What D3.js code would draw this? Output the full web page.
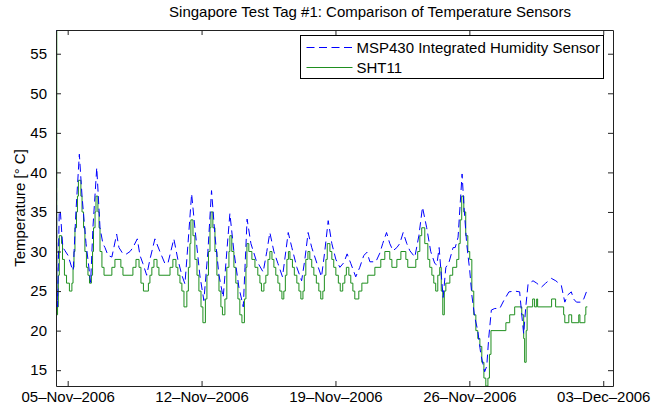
<!DOCTYPE html>
<html><head><meta charset="utf-8">
<script src="https://cdn.jsdelivr.net/npm/d3@7"></script>
<style>
html,body{margin:0;padding:0;background:#fff;}
svg{display:block;}
text{font-family:"Liberation Sans",Arial,Helvetica,sans-serif;fill:#000;}
</style></head>
<body>
<svg id="chart" width="665" height="407"></svg>
<script>
// ---- data (days since 05-Nov-2006 00:00, temperature in °C) ----
const title = "Singapore Test Tag #1: Comparison of Temperature Sensors";
const yLabel = "Temperature [° C]";
const seriesNames = ["MSP430 Integrated Humidity Sensor", "SHT11"];
const yTicks = [15, 20, 25, 30, 35, 40, 45, 50, 55];
const xTickDays = [0, 7, 14, 21, 28];
const xTickLabels = ["05–Nov–2006", "12–Nov–2006", "19–Nov–2006", "26–Nov–2006", "03–Dec–2006"];

const mspDays = [-0.60,-0.57,-0.53,-0.44,-0.38,-0.31,-0.25,-0.14,0.02,0.21,0.29,0.43,0.61,0.75,0.96,1.20,1.32,1.52,1.69,1.84,1.95,2.11,2.31,2.56,2.68,2.89,3.08,3.26,3.41,3.64,3.78,3.93,4.13,4.30,4.56,4.82,5.08,5.24,5.55,5.76,5.97,6.13,6.29,6.48,6.65,6.91,7.12,7.33,7.52,7.70,7.91,8.13,8.32,8.48,8.69,8.95,9.18,9.27,9.38,9.58,9.84,10.22,10.41,10.57,10.78,10.99,11.23,11.35,11.53,11.72,11.98,12.23,12.40,12.57,12.76,13.03,13.27,13.44,13.62,13.81,14.02,14.23,14.44,14.61,14.80,15.06,15.27,15.48,15.65,15.80,16.11,16.32,16.47,16.67,16.84,17.01,17.21,17.36,17.54,17.73,17.89,18.15,18.36,18.55,18.77,18.98,19.19,19.30,19.42,19.50,19.63,19.77,19.92,20.15,20.26,20.41,20.52,20.62,20.71,20.86,21.02,21.13,21.28,21.44,21.60,21.80,21.91,22.01,22.15,22.33,22.59,22.80,23.07,23.37,23.63,23.74,23.84,23.95,24.07,24.33,24.52,24.77,24.99,25.29,25.52,25.81,25.99,26.14,26.33,26.45,26.60,26.86,26.98,27.12];
const mspTemp = [58,26.3,23,35.2,35.0,32.4,30.5,30.1,29.5,28.0,27.6,35,42.3,37,31,26.1,33,40.6,33,31,30.5,29.5,29.3,32.2,30.5,29.7,29.7,30,30.5,31.6,29.5,28.5,27.0,29,31.6,30,28.5,28.5,31.6,29,27,25.9,31,37.3,33,27,23.8,30,37.7,32,27,24.2,30,34.8,30,25.5,23.0,28,34.1,31,29,27.4,30,32.4,30,28.5,26.8,29,32.4,30.5,28,26.3,29,32.4,30.5,28.5,26.8,30,33.9,31,29,28.0,28.6,29.7,28.5,26.8,28,29.5,29.9,28.7,28.7,29.8,31,32.4,31,30.1,30.5,31,32.4,31,30.1,29.3,32,35.6,33,30,28.5,28.3,30.5,28,24.2,28.0,28.5,30.5,30.5,31.8,36,39.8,36,31,27.6,24.5,21.7,20,17,14.8,15.5,19,22.6,22.8,22.8,23.8,24.9,25,24.9,22,19.6,23,25.9,26.3,26,25.5,26,26.6,26.3,25.7,23.6,24.5,24.9,24,23.6,23.6,24,24.9];

const shtDays = [-0.60,-0.57,-0.53,-0.49,-0.44,-0.32,-0.27,-0.17,-0.06,0.09,0.22,0.28,0.33,0.38,0.46,0.51,0.56,0.69,0.75,0.83,0.90,0.98,1.06,1.14,1.24,1.30,1.35,1.43,1.48,1.58,1.64,1.69,1.79,1.90,2.31,2.47,2.78,2.89,3.41,3.57,3.73,3.83,3.96,4.22,4.30,4.40,4.51,4.67,4.77,5.35,5.50,5.66,5.76,5.87,5.97,6.08,6.23,6.31,6.39,6.44,6.55,6.65,6.76,6.86,6.97,7.07,7.20,7.28,7.36,7.44,7.49,7.59,7.70,7.80,7.91,8.01,8.09,8.22,8.32,8.43,8.48,8.58,8.69,8.79,8.90,9.00,9.11,9.24,9.32,9.37,9.47,9.63,9.79,9.94,10.05,10.13,10.26,10.36,10.47,10.57,10.68,10.78,10.88,10.99,11.09,11.20,11.30,11.38,11.46,11.54,11.62,11.75,11.85,11.98,12.09,12.19,12.30,12.37,12.45,12.56,12.66,12.76,12.87,13.00,13.13,13.23,13.34,13.42,13.50,13.57,13.71,13.81,13.91,14.02,14.15,14.25,14.38,14.49,14.57,14.70,14.80,14.91,15.01,15.22,15.38,15.69,16.06,16.37,16.58,16.84,16.95,17.21,17.42,17.68,17.78,18.20,18.30,18.41,18.51,18.67,18.83,18.93,19.04,19.14,19.24,19.35,19.45,19.53,19.61,19.69,19.77,19.98,20.13,20.34,20.45,20.52,20.60,20.71,20.81,20.92,21.02,21.13,21.23,21.34,21.44,21.55,21.65,21.76,21.86,21.97,22.05,22.13,22.91,23.11,23.37,23.74,23.84,23.89,23.97,24.02,24.31,24.41,24.52,24.57,25.30,25.51,25.93,25.99,26.20,26.35,26.72,26.78,27.04,27.09,27.17];
const shtTemp = [58,22,23,27,32,31,29,27,26,25,26,28,30,33,35,37,39,37,35,33,30,28,27,26,27,30,33,35,37,35,33,30,28,27,28,29,28,27,28,29,28,26,25,26,27,28,29,28,27,28,29,28,27,26,25,23,25,28,31,34,32,29,27,25,23,21,24,27,30,33,35,33,30,27,25,23,22,24,28,30,32,30,28,26,24,22,21,24,28,31,30,29,28,27,26,25,26,27,29,30,29,28,27,26,25,24,25,27,29,30,29,28,27,26,25,24,25,27,29,30,29,28,27,26,25,24,25,27,29,31,30,29,28,27,26,25,26,27,28,27,26,25,24,25,26,27,28,29,30,29,28,29,30,29,28,29,30,32,33,31,29,28,27,26,25,27,28,25,22,25,26,27,28,29,31,34,37,35,32,30,29,25,22,20,19,18,16,14,13,14,17,20,21,22,23,22,19,16,20,23,24,23,24,23,24,23,22,21,22,21,22,21,22,23,23];

// ---- layout ----
const W = 665, H = 407;
const L = 56, R = 613, T = 30, B = 386;
const DAY = 864e5;
const t0 = Date.UTC(2006, 10, 5);
const toDate = d => new Date(t0 + d * DAY);
const FS = 15;

const svg = d3.select("#chart");
const x = d3.scaleUtc().domain([toDate(-0.611), toDate(28.51)]).range([L, R]);
const y = d3.scaleLinear().domain([13, 58]).range([B, T]);

svg.append("rect").attr("x", 0).attr("y", 0).attr("width", W).attr("height", H).attr("fill", "#fff");

svg.append("defs").append("clipPath").attr("id", "clip")
  .append("rect").attr("x", L).attr("y", T).attr("width", R - L).attr("height", B - T);

const msp = mspDays.map((d, i) => ({ t: toDate(d), v: mspTemp[i] }));
const sht = shtDays.map((d, i) => ({ t: toDate(d), v: shtTemp[i] }));

const greenC = "#1f8f1f", blueC = "#0000ff", dash = "8,4.5";
const g = svg.append("g").attr("clip-path", "url(#clip)");
g.append("path").datum(sht)
  .attr("d", d3.line().x(d => x(d.t)).y(d => y(d.v)).curve(d3.curveStepAfter))
  .attr("fill", "none").attr("stroke", greenC).attr("stroke-width", 1);
g.append("path").datum(msp)
  .attr("d", d3.line().x(d => x(d.t)).y(d => y(d.v)))
  .attr("fill", "none").attr("stroke", blueC).attr("stroke-width", 1)
  .attr("stroke-dasharray", dash);

// ---- axes ----
const tickDates = xTickDays.map(toDate);
const fmt = d => xTickLabels[tickDates.findIndex(t => +t === +d)];
const axisColor = "#222";
function styleAxis(sel) {
  sel.selectAll("path.domain").attr("stroke", axisColor).attr("stroke-width", 1);
  sel.selectAll(".tick line").attr("stroke", axisColor);
  sel.selectAll(".tick text").attr("font-size", FS).attr("fill", "#000")
    .style("font-family", '"Liberation Sans", Arial, sans-serif');
}
const ax1 = svg.append("g").attr("transform", `translate(0,${B})`)
  .call(d3.axisBottom(x).tickValues(tickDates).tickFormat(fmt).tickSizeInner(-5).tickSizeOuter(0).tickPadding(5));
styleAxis(ax1);
const ax2 = svg.append("g").attr("transform", `translate(0,${T})`)
  .call(d3.axisTop(x).tickValues(tickDates).tickFormat("").tickSizeInner(-5).tickSizeOuter(0));
styleAxis(ax2);
const ay1 = svg.append("g").attr("transform", `translate(${L},0)`)
  .call(d3.axisLeft(y).tickValues(yTicks).tickSizeInner(-5).tickSizeOuter(0).tickPadding(9));
styleAxis(ay1);
const ay2 = svg.append("g").attr("transform", `translate(${R},0)`)
  .call(d3.axisRight(y).tickValues(yTicks).tickFormat("").tickSizeInner(-5).tickSizeOuter(0));
styleAxis(ay2);

// ---- title & labels ----
svg.append("text").attr("x", 370).attr("y", 17).attr("text-anchor", "middle")
  .attr("font-size", FS).text(title);
svg.append("text").attr("transform", `translate(25,${(T + B) / 2}) rotate(-90)`)
  .attr("text-anchor", "middle").attr("font-size", FS).text(yLabel);

// ---- legend ----
const lg = svg.append("g").attr("transform", "translate(300.5,35.5)");
lg.append("rect").attr("width", 303).attr("height", 43).attr("fill", "#fff").attr("stroke", "#000");
const rows = [
  { name: seriesNames[0], color: blueC, dash: dash, yy: 12 },
  { name: seriesNames[1], color: greenC, dash: null, yy: 32 }
];
rows.forEach(r => {
  lg.append("line").attr("x1", 6).attr("x2", 52).attr("y1", r.yy).attr("y2", r.yy)
    .attr("stroke", r.color).attr("stroke-width", 1).attr("stroke-dasharray", r.dash);
  lg.append("text").attr("x", 56).attr("y", r.yy + 5).attr("font-size", FS).text(r.name);
});
</script>
</body></html>
